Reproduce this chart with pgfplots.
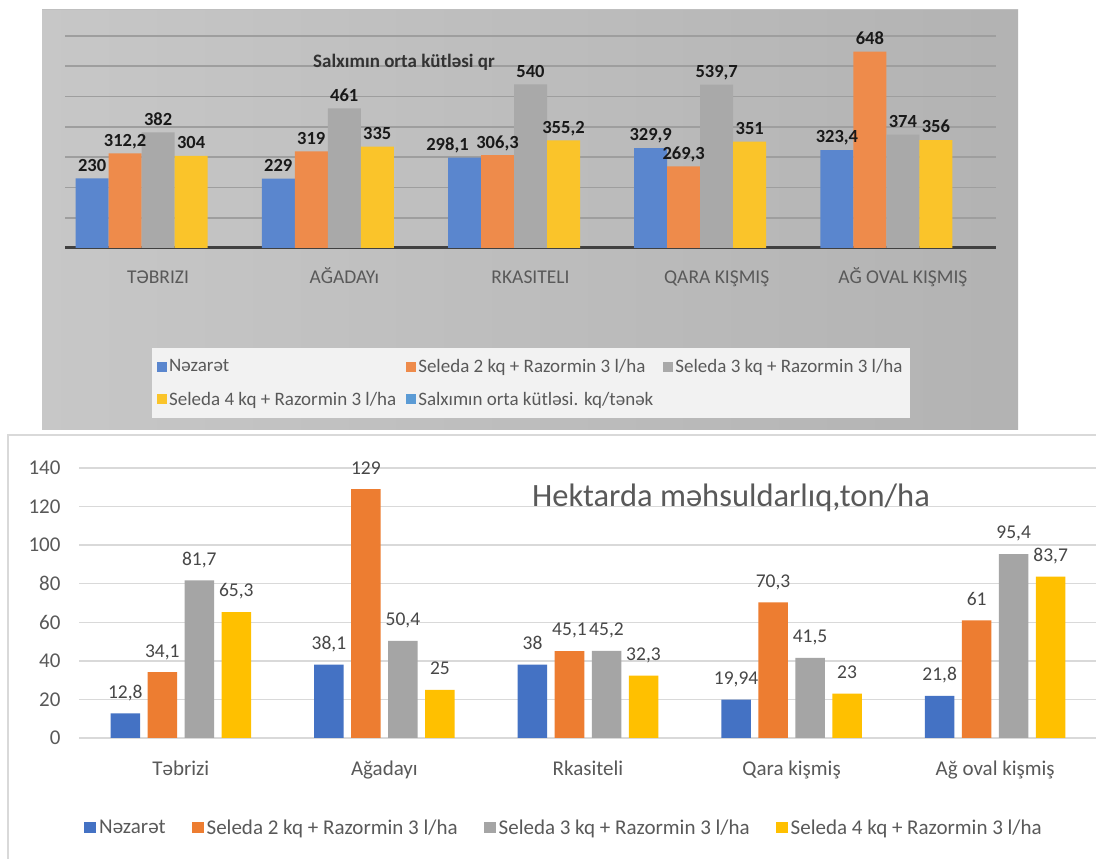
\documentclass[border=0pt]{standalone}
\usepackage{fontspec}
\setmainfont{Carlito}
\usepackage{pgfplots}
\usepackage{pgfplotstable}
\pgfplotsset{compat=1.18}

\definecolor{tblue}{HTML}{5A86CE}
\definecolor{torange}{HTML}{EE8B4B}
\definecolor{tgray}{HTML}{A9A9A9}
\definecolor{tyellow}{HTML}{FAC42A}
\definecolor{tlblue}{HTML}{5B9BD5}
\definecolor{bblue}{HTML}{4472C4}
\definecolor{borange}{HTML}{ED7D31}
\definecolor{bgray}{HTML}{A5A5A5}
\definecolor{byellow}{HTML}{FFC000}
\definecolor{txtgray}{HTML}{595959}

\pgfplotsset{
  sqleg/.style={legend image code/.code={\fill[##1] (0pt,-5pt) rectangle (10pt,5pt);}},
  sqlegb/.style={legend image code/.code={\fill[##1] (0pt,-5.5pt) rectangle (12pt,5.5pt);}},
}

% top chart: Salxımın orta kütləsi, qr  (dx = sideways nudge of the value label)
\pgfplotstableread{
x y lab dx
0 230 230 0
1 229 229 0
2 298.1 298,1 -17
3 329.9 329,9 0
4 323.4 323,4 0
}\topA
\pgfplotstableread{
x y lab dx
0 312.2 312,2 0
1 319 319 0
2 306.3 306,3 0
3 269.3 269,3 0
4 648 648 0
}\topB
\pgfplotstableread{
x y lab dx
0 382 382 0
1 461 461 0
2 540 540 0
3 539.7 539,7 0
4 374 374 0
}\topC
\pgfplotstableread{
x y lab dx
0 304 304 0
1 335 335 0
2 355.2 355,2 0
3 351 351 0
4 356 356 0
}\topD

% bottom chart: Hektarda məhsuldarlıq, ton/ha
\pgfplotstableread{
x y lab
0 12.8 12,8
1 38.1 38,1
2 38 38
3 19.94 19,94
4 21.8 21,8
}\botA
\pgfplotstableread{
x y lab
0 34.1 34,1
1 129 129
2 45.1 45,1
3 70.3 70,3
4 61 61
}\botB
\pgfplotstableread{
x y lab
0 81.7 81,7
1 50.4 50,4
2 45.2 45,2
3 41.5 41,5
4 95.4 95,4
}\botC
\pgfplotstableread{
x y lab
0 65.3 65,3
1 25 25
2 32.3 32,3
3 23 23
4 83.7 83,7
}\botD

\begin{document}
\begin{tikzpicture}
\path[use as bounding box] (0pt,0pt) rectangle (1096pt,859pt);
% grey panel behind the upper chart
\shade[left color=black!22, middle color=black!3, right color=black!30] (42pt,429pt) rectangle (1018pt,849pt);
\draw[black!25, line width=1pt] (42pt,849pt) -- (1018pt,849pt);
% white frame of the lower chart
\fill[white] (8pt,-5pt) rectangle (1110pt,424pt);
\draw[black!15, line width=1.2pt] (8pt,-5pt) -- (8pt,424pt) -- (1110pt,424pt);

\begin{axis}[
    at={(65pt,611pt)}, anchor=south west,
    scale only axis, width=931pt, height=212pt,
    xmin=-0.5, xmax=4.5, ymin=0, ymax=700,
    ybar, bar width=33pt,
    axis line style={draw=none}, tick style={draw=none},
    xtick={0,...,4},
    xticklabels={TƏBRIZI, AĞADAYı, RKASITELI, QARA KIŞMIŞ, AĞ OVAL KIŞMIŞ},
    xticklabel style={font=\fontsize{19.5pt}{22pt}\selectfont, text=txtgray, anchor=base, yshift=-31pt},
    ytick={100,200,...,700}, yticklabels={},
    ymajorgrids, grid style={draw=black!38, line width=1.6pt},
    extra y ticks={0}, extra y tick labels={},
    extra y tick style={grid style={draw=black!75, line width=3pt}},
    nodes near coords, point meta=explicit symbolic,
    visualization depends on={\thisrow{dx} \as \dx},
    every node near coord/.append style={font=\fontsize{18.5pt}{22pt}\selectfont\bfseries, text=black!90, inner sep=0pt, text depth=0pt, yshift=7pt, xshift=\dx},
    legend columns=3, legend cell align=left,
    legend style={at={(0.0934,-0.4717)}, anchor=north west, draw=none, fill=black!5,
        font=\fontsize{19pt}{22pt}\selectfont, text=txtgray, inner xsep=5pt, inner ysep=9pt, row sep=14pt,
        nodes={inner sep=2pt}, /tikz/every even column/.append style={column sep=8pt}},
]
\addplot[fill=tblue, draw=none, bar shift=-66pt, sqleg] table[x=x, y=y, meta=lab] {\topA};
\addlegendentry{Nəzarət}
\addplot[fill=torange, draw=none, bar shift=-33pt, sqleg] table[x=x, y=y, meta=lab] {\topB};
\addlegendentry{Seleda 2 kq + Razormin 3 l/ha}
\addplot[fill=tgray, draw=none, bar shift=0pt, sqleg] table[x=x, y=y, meta=lab] {\topC};
\addlegendentry{Seleda 3 kq + Razormin 3 l/ha}
\addplot[fill=tyellow, draw=none, bar shift=33pt, sqleg] table[x=x, y=y, meta=lab] {\topD};
\addlegendentry{Seleda 4 kq + Razormin 3 l/ha}
\addlegendimage{fill=tlblue, draw=none, sqleg}
\addlegendentry{Salxımın orta kütləsi. kq/tənək}
\end{axis}
\node[font=\fontsize{19pt}{22pt}\selectfont\bfseries, text=black!80] at (404pt,797pt) {Salxımın orta kütləsi qr};

\begin{axis}[
    at={(79pt,121pt)}, anchor=south west,
    scale only axis, width=1018pt, height=270pt,
    xmin=-0.5, xmax=4.5, ymin=0, ymax=140,
    ybar, bar width=29.5pt,
    axis line style={draw=none}, tick style={draw=none},
    xtick={0,...,4},
    xticklabels={Təbrizi, Ağadayı, Rkasiteli, Qara kişmiş, Ağ oval kişmiş},
    xticklabel style={font=\fontsize{21pt}{24pt}\selectfont, text=txtgray, anchor=base, yshift=-33pt},
    ytick={0,20,...,140},
    yticklabel style={font=\fontsize{21pt}{24pt}\selectfont, text=txtgray, xshift=-15pt},
    /pgf/number format/assume math mode=true,
    ymajorgrids, grid style={draw=black!15, line width=1.3pt},
    nodes near coords, point meta=explicit symbolic,
    every node near coord/.append style={font=\fontsize{19.5pt}{22pt}\selectfont, text=black!72, inner sep=0pt, text depth=0pt, yshift=15pt},
    legend columns=4,
    legend style={at={(0.0049,-0.3333)}, anchor=west, draw=none, fill=none, inner sep=0pt,
        font=\fontsize{21pt}{24pt}\selectfont, text=txtgray,
        nodes={inner sep=3pt},
        /tikz/every even column/.append style={column sep=23pt}},
]
\addplot[fill=bblue, draw=none, bar shift=-55.5pt, sqlegb] table[x=x, y=y, meta=lab] {\botA};
\addlegendentry{Nəzarət}
\addplot[fill=borange, draw=none, bar shift=-18.5pt, sqlegb] table[x=x, y=y, meta=lab] {\botB};
\addlegendentry{Seleda 2 kq + Razormin 3 l/ha}
\addplot[fill=bgray, draw=none, bar shift=18.5pt, sqlegb] table[x=x, y=y, meta=lab] {\botC};
\addlegendentry{Seleda 3 kq + Razormin 3 l/ha}
\addplot[fill=byellow, draw=none, bar shift=55.5pt, sqlegb] table[x=x, y=y, meta=lab] {\botD};
\addlegendentry{Seleda 4 kq + Razormin 3 l/ha}
\end{axis}
\node[font=\fontsize{32.5pt}{36pt}\selectfont, text=txtgray] at (731pt,361pt) {Hektarda məhsuldarlıq,ton/ha};
\end{tikzpicture}
\end{document}
